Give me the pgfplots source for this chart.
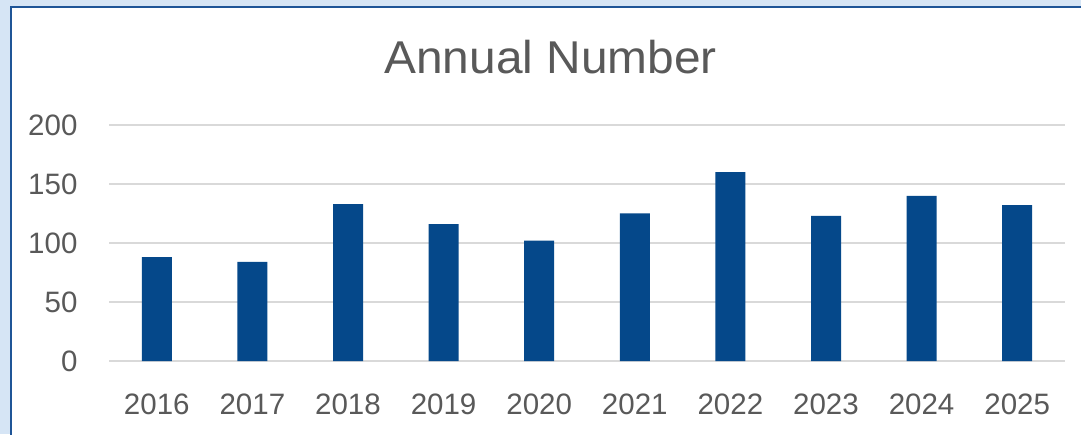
\documentclass[border=0pt]{standalone}
\usepackage{pgfplots}
\pgfplotsset{compat=1.18}
\usepackage{fontspec}
\setmainfont{Liberation Sans}
\definecolor{barblue}{HTML}{05488A}
\definecolor{bgblue}{HTML}{D6E5F5}
\definecolor{frameblue}{HTML}{1F5597}
\definecolor{txtgray}{HTML}{595959}
\definecolor{gridgray}{HTML}{D9D9D9}
\begin{document}
\begin{tikzpicture}[x=1pt,y=1pt]
\useasboundingbox (0,0) rectangle (1081,434);
\fill[bgblue] (0,0) rectangle (1081,434);
\fill[white] (11,-10) rectangle (1095,427);
\draw[frameblue, line width=2pt] (11,-10) -- (11,427) -- (1095,427);
\node[text=txtgray, font=\fontsize{46}{46}\selectfont, xscale=1.04] at (550.5,377) {Annual Number};
\begin{axis}[
  at={(109pt,73pt)}, anchor=south west,
  scale only axis, width=956pt, height=236pt,
  xmin=-0.5, xmax=9.5, ymin=0, ymax=200,
  enlargelimits=false,
  ytick={0,50,100,150,200},
  xtick={0,1,2,3,4,5,6,7,8,9},
  xticklabels={2016,2017,2018,2019,2020,2021,2022,2023,2024,2025},
  ymajorgrids, grid style={gridgray, line width=1.5pt},
  axis line style={draw=none},
  major tick length=0pt,
  tick style={draw=none},
  /pgf/number format/assume math mode=true,
  tick label style={font=\fontsize{29.5}{29.5}\selectfont, text=txtgray},
  yticklabel style={xshift=-28pt},
  xticklabel style={yshift=-29pt},
]
\addplot[ybar, bar width=30pt, fill=barblue, draw=none] coordinates {
  (0,88) (1,84) (2,133) (3,116) (4,102) (5,125) (6,160) (7,123) (8,140) (9,132)
};
\end{axis}
\end{tikzpicture}
\end{document}
